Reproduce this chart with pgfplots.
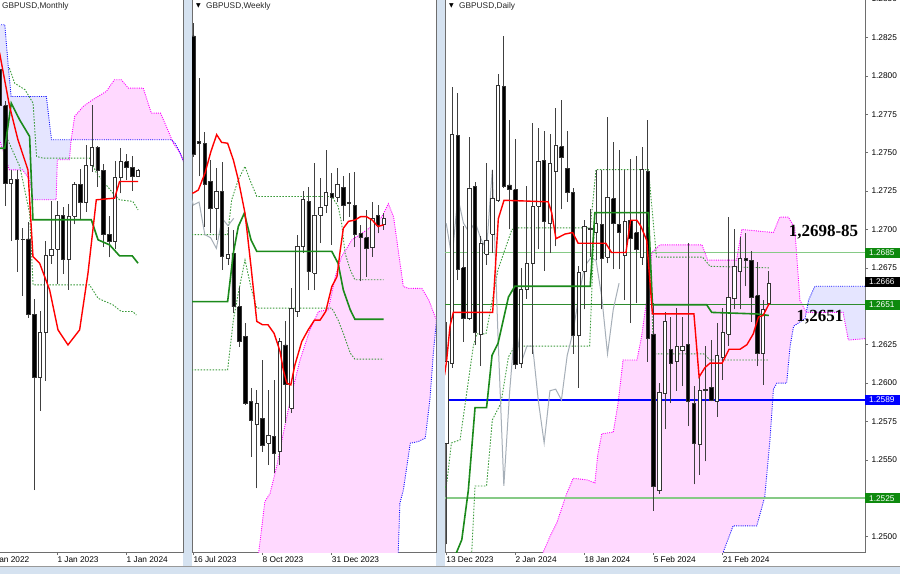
\documentclass[border=0pt]{standalone}
\usepackage{fontspec}
\setmainfont{Liberation Sans}
\newfontfamily\symfont{DejaVu Sans}
\newfontfamily\notefont{Liberation Serif}
\usepackage{pgfplots}
\usepackage{pgfplotstable}
\pgfplotsset{compat=1.18}

\definecolor{tenkan}{HTML}{FF0000}
\definecolor{kijun}{HTML}{1B8A1B}
\definecolor{dotgreen}{HTML}{3A9A3A}
\definecolor{chikou}{HTML}{A6AFB8}
\definecolor{kumopink}{HTML}{FF00FF}
\definecolor{kumoblue}{HTML}{1515FF}
\definecolor{lvlgreen}{HTML}{86CA86}
\definecolor{lvldark}{HTML}{2E8B2E}
\definecolor{tagblue}{HTML}{0000FF}
\definecolor{taggreen}{HTML}{0E8A0E}
\definecolor{winbg}{HTML}{D5E2F0}
\definecolor{framegray}{HTML}{6E6E6E}

\newcommand\lblfont{\fontsize{8.3bp}{9bp}\selectfont}

\pgfplotsset{
  panel/.style={scale only axis, anchor=south west, height=554bp,
    axis background/.style={fill=white},
    axis line style={framegray, line width=0.8bp},
    tick style={framegray, line width=0.6bp},
    tick align=outside, major tick length=3bp,
    ytick=\empty, xtick pos=left,
    tick label style={font=\lblfont},
    xticklabel style={anchor=north west, inner sep=0pt, yshift=-1bp}},
  wick/.style={forget plot, draw=black!75, line width=0.8bp},
  body/.style={forget plot, draw=black!80, line width=0.8bp, line join=miter},
  kumoedge/.style={line width=0.9bp, dash pattern=on 1bp off 1.2bp},
  lvldot/.style={draw=dotgreen, line width=0.9bp, dash pattern=on 1.5bp off 1.5bp},
  pinkfill/.style={draw=none, fill=kumopink!15, forget plot},
  bluefill/.style={draw=none, fill=kumoblue!11, forget plot}
}
\tikzset{
  datelbl/.style={anchor=north west, inner sep=0pt, yshift=-4bp, font=\lblfont},
  pricetag/.style={anchor=west, inner xsep=4bp, inner ysep=0pt, minimum height=10bp,
    text width=31bp, font=\lblfont, text=white}
}

% one wick and one body per row of an OHLC table (x o h l c)
\newcommand\drawcandles[1]{%
  \pgfplotstablegetrowsof{#1}%
  \pgfmathtruncatemacro\lastrow{\pgfplotsretval-1}%
  \pgfplotsforeachungrouped \crow in {0,...,\lastrow}{%
    \pgfplotstablegetelem{\crow}{x}\of{#1}\let\cx\pgfplotsretval
    \pgfplotstablegetelem{\crow}{o}\of{#1}\let\co\pgfplotsretval
    \pgfplotstablegetelem{\crow}{h}\of{#1}\let\chi\pgfplotsretval
    \pgfplotstablegetelem{\crow}{l}\of{#1}\let\clo\pgfplotsretval
    \pgfplotstablegetelem{\crow}{c}\of{#1}\let\ccl\pgfplotsretval
    \pgfmathsetmacro\xl{\cx-0.3}\pgfmathsetmacro\xr{\cx+0.3}%
    \ifdim\co pt>\ccl pt\def\cfill{black}\else\def\cfill{white}\fi
    \edef\candlecmd{%
      \noexpand\addplot[wick] coordinates {(\cx,\clo) (\cx,\chi)};%
      \noexpand\addplot[body,fill=\cfill] coordinates {(\xl,\co) (\xr,\co) (\xr,\ccl) (\xl,\ccl) (\xl,\co)};}%
    \candlecmd
  }%
}

% ---------------- monthly ----------------
\pgfplotstableread{
x o h l c
-10 1.3400 1.3437 1.3000 1.3136
-9 1.3136 1.3167 1.2411 1.2574
-8 1.2574 1.2667 1.2155 1.2600
-7 1.2600 1.2667 1.1933 1.2165
-6 1.2165 1.2247 1.1760 1.2170
-5 1.2170 1.2294 1.1600 1.1620
-4 1.1620 1.1738 1.0350 1.1167
-3 1.1167 1.1645 1.0924 1.1491
-2 1.1491 1.2154 1.1143 1.2050
-1 1.2050 1.2447 1.1992 1.2097
0 1.2097 1.2448 1.1841 1.2339
1 1.2339 1.2401 1.1915 1.2024
2 1.2024 1.2423 1.1802 1.2335
3 1.2335 1.2584 1.2275 1.2567
4 1.2567 1.2680 1.2308 1.2437
5 1.2437 1.2849 1.2369 1.2703
6 1.2703 1.3142 1.2659 1.2835
7 1.2835 1.2841 1.2548 1.2667
8 1.2667 1.2713 1.2111 1.2200
9 1.2200 1.2337 1.2037 1.2150
10 1.2150 1.2733 1.2095 1.2620
11 1.2620 1.2827 1.2500 1.2730
12 1.2730 1.2786 1.2597 1.2690
13 1.2690 1.2773 1.2518 1.2623
14 1.2623 1.2676 1.2620 1.2666
}\mcandles
\pgfplotstableread{
k v
-10.3 1.3518
-10.0 1.3518
-8.27 1.3131
-6.82 1.2889
-5.09 1.2671
-4.22 1.2043
-3.06 1.1994
-2.2 1.1898
-1.33 1.1801
0.12 1.1511
1.85 1.1402
3.87 1.1511
5.32 1.1922
6.76 1.2454
9.94 1.2466
10.8 1.2587
14.0 1.2587
}\mtenkan
\pgfplotstableread{
k v
-10.3 1.2828
-9.1 1.2828
-7.98 1.3155
-6.53 1.3034
-4.8 1.2913
-4.22 1.2309
5.9 1.2309
7.06 1.2164
9.08 1.2127
10.8 1.2047
13.0 1.2047
14.0 1.1994
}\mkijun
\pgfplotstableread{
k v
-8.3 1.3409
-7.4 1.3300
-5.6 1.3252
-4.2 1.3155
-3.6 1.2768
-2.5 1.2756
5.6 1.2756
6.8 1.2647
9.65 1.2502
10.8 1.2454
13.1 1.2442
14.0 1.2381
}\mupper
\pgfplotstableread{
k v
-8.6 1.2889
-6.5 1.2695
-4.8 1.2357
-4.2 1.1837
5.6 1.1837
7.06 1.1740
9.65 1.1692
11.1 1.1644
13.1 1.1644
13.7 1.1619
}\mlower
\pgfplotstableread{
k v
-10.5 1.3723
-9.1 1.3723
-8.5 1.3421
-8.0 1.3203
-1.9 1.3203
-1.0 1.2889
19.8 1.2889
20.4 1.2865
21.3 1.2792
22.0 1.2720
}\mspanA
\pgfplotstableread{
k v
-10.5 1.2949
-8.3 1.2671
-6.0 1.2671
-4.8 1.2599
-4.2 1.2454
-0.2 1.2454
0.0 1.2744
2.1 1.2744
2.4 1.2889
3.0 1.3058
4.5 1.3131
6.1 1.3179
8.5 1.3240
9.9 1.3324
11.1 1.3324
12.3 1.3264
14.9 1.3264
16.3 1.3082
17.9 1.3082
18.9 1.2986
20.1 1.2865
21.3 1.2792
22.0 1.2720
}\mspanB
% cloud outlines (span A / span B joined), monthly
\pgfplotstableread{
k v
-10.5 1.3723
-9.1 1.3723
-8.5 1.3421
-8.0 1.3203
-1.9 1.3203
-1.0 1.2889
2.4 1.2889
2.1 1.2744
0.0 1.2744
-0.2 1.2454
-4.2 1.2454
-4.8 1.2599
-6.0 1.2671
-8.3 1.2671
-10.5 1.2949
-10.5 1.3723
}\mkumoblue
\pgfplotstableread{
k v
2.4 1.2889
3.0 1.3058
4.5 1.3131
6.1 1.3179
8.5 1.3240
9.9 1.3324
11.1 1.3324
12.3 1.3264
14.9 1.3264
16.3 1.3082
17.9 1.3082
18.9 1.2986
20.1 1.2865
21.3 1.2792
20.4 1.2865
19.8 1.2889
2.4 1.2889
}\mkumopink

% ---------------- weekly ----------------
\pgfplotstableread{
x o h l c
0 1.3091 1.3121 1.2810 1.2814
1 1.2845 1.2993 1.2764 1.2841
2 1.2841 1.2868 1.2647 1.2744
3 1.2752 1.2802 1.2631 1.2690
4 1.2690 1.2783 1.2616 1.2729
5 1.2729 1.2798 1.2546 1.2577
6 1.2573 1.2647 1.2558 1.2583
7 1.2585 1.2639 1.2445 1.2460
8 1.2460 1.2507 1.2367 1.2379
9 1.2391 1.2422 1.2231 1.2235
10 1.2239 1.2270 1.2111 1.2195
11 1.2185 1.2266 1.2037 1.2235
12 1.2200 1.2336 1.2122 1.2138
13 1.2142 1.2266 1.2091 1.2161
14 1.2157 1.2290 1.2072 1.2119
15 1.2122 1.2387 1.2091 1.2379
16 1.2371 1.2426 1.2189 1.2278
17 1.2223 1.2503 1.2212 1.2457
18 1.2449 1.2627 1.2437 1.2600
19 1.2600 1.2729 1.2585 1.2709
20 1.2705 1.2740 1.2499 1.2542
21 1.2538 1.2795 1.2499 1.2674
22 1.2674 1.2760 1.2608 1.2692
23 1.2697 1.2826 1.2678 1.2726
24 1.2725 1.2771 1.2604 1.2715
25 1.2715 1.2783 1.2703 1.2746
26 1.2738 1.2764 1.2659 1.2697
27 1.2700 1.2771 1.2670 1.2704
28 1.2697 1.2773 1.2599 1.2628
29 1.2631 1.2650 1.2519 1.2621
30 1.2621 1.2686 1.2530 1.2596
31 1.2598 1.2705 1.2577 1.2666
32 1.2672 1.2697 1.2631 1.2649
33 1.2652 1.2678 1.2639 1.2666
}\wcandles
\pgfplotstableread{
k v
-0.3 1.2725
0 1.2725
0.87 1.2732
2.02 1.2771
3.06 1.2822
4.05 1.2861
4.91 1.2843
5.95 1.2841
6.94 1.2802
7.8 1.2756
8.96 1.2678
10.0 1.2554
11.0 1.2426
12.0 1.2418
12.95 1.2418
14.0 1.2398
15.03 1.2356
15.6 1.2313
16.2 1.2282
16.9 1.2278
17.6 1.2324
18.8 1.2379
19.9 1.2406
21.0 1.2429
21.97 1.2429
22.95 1.2449
24.0 1.2507
24.9 1.2530
25.4 1.2585
26.0 1.2643
26.9 1.2659
28.0 1.2662
29.0 1.2670
30.0 1.2670
31.0 1.2662
32.0 1.2647
33.0 1.2651
}\wtenkan
\pgfplotstableread{
k v
-0.3 1.2472
5.95 1.2472
6.94 1.2585
7.8 1.2647
8.84 1.2678
10.0 1.2616
11.0 1.2589
24.0 1.2589
25.1 1.2561
26.0 1.2499
27.2 1.2453
28.0 1.2431
33.0 1.2431
}\wkijun
\pgfplotstableread{
k v
-0.3 1.2628
5.95 1.2628
6.65 1.2709
7.8 1.2756
8.96 1.2787
9.8 1.2756
11.0 1.2717
24.0 1.2717
25.1 1.2694
25.7 1.2655
26.3 1.2585
27.2 1.2546
28.0 1.2523
33.0 1.2523
}\wupper
\pgfplotstableread{
k v
-0.3 1.2313
5.95 1.2313
6.94 1.2429
7.8 1.2492
8.96 1.2569
10.1 1.2499
11.0 1.2457
24.0 1.2457
25.1 1.2429
26.0 1.2398
27.2 1.2352
28.0 1.2338
33.0 1.2338
}\wlower
\pgfplotstableread{
k v
-1 1.2746
0 1.2697
1 1.2704
2 1.2628
3 1.2621
4 1.2596
5 1.2666
6 1.2649
7 1.2666
}\wchikou
\pgfplotstableread{
k v
35.3 1.1800
35.8 1.2002
36.4 1.2033
37.6 1.2142
39.0 1.2146
40.2 1.2154
41.0 1.2243
41.6 1.2352
42.2 1.2437
}\wspanA
\pgfplotstableread{
k v
11.0 1.1850
12.4 1.2006
13.3 1.2025
14.45 1.2088
15.6 1.2165
17.05 1.2258
18.5 1.2336
20.2 1.2406
21.7 1.2449
23.4 1.2453
24.6 1.2530
25.7 1.2577
27.5 1.2616
29.2 1.2631
30.9 1.2647
32.7 1.2670
33.8 1.2700
34.7 1.2670
35.5 1.2593
36.4 1.2507
37.3 1.2503
39.6 1.2503
40.8 1.2476
41.9 1.2437
42.6 1.2420
}\wspanB
\pgfplotstableread{
k v
11.0 1.1850
12.4 1.2006
13.3 1.2025
14.45 1.2088
15.6 1.2165
17.05 1.2258
18.5 1.2336
20.2 1.2406
21.7 1.2449
23.4 1.2453
24.6 1.2530
25.7 1.2577
27.5 1.2616
29.2 1.2631
30.9 1.2647
32.7 1.2670
33.8 1.2700
34.7 1.2670
35.5 1.2593
36.4 1.2507
37.3 1.2503
39.6 1.2503
40.8 1.2476
41.9 1.2437
42.2 1.2437
41.6 1.2352
41.0 1.2243
40.2 1.2154
39.0 1.2146
37.6 1.2142
36.4 1.2033
35.8 1.2002
35.3 1.1800
11.0 1.1800
11.0 1.1850
}\wkumopink

% ---------------- daily ----------------
\pgfplotstableread{
x o h l c
-1 1.2561 1.2640 1.2495 1.2614
0 1.2613 1.2793 1.2610 1.2762
1 1.2761 1.2789 1.2667 1.2674
2 1.2675 1.2702 1.2627 1.2642
3 1.2642 1.2760 1.2641 1.2727
4 1.2728 1.2731 1.2625 1.2633
5 1.2632 1.2696 1.2611 1.2691
6 1.2684 1.2743 1.2677 1.2693
7 1.2697 1.2739 1.2685 1.2720
8 1.2719 1.2801 1.2718 1.2794
9 1.2793 1.2826 1.2727 1.2728
10 1.2729 1.2771 1.2700 1.2726
11 1.2726 1.2759 1.2609 1.2612
12 1.2613 1.2675 1.2610 1.2661
13 1.2661 1.2728 1.2655 1.2678
14 1.2678 1.2769 1.2619 1.2715
15 1.2715 1.2766 1.2687 1.2744
16 1.2745 1.2764 1.2673 1.2705
17 1.2704 1.2762 1.2685 1.2743
18 1.2738 1.2779 1.2689 1.2755
19 1.2754 1.2784 1.2713 1.2747
20 1.2740 1.2764 1.2718 1.2724
21 1.2724 1.2727 1.2619 1.2631
22 1.2631 1.2676 1.2597 1.2672
23 1.2673 1.2706 1.2648 1.2702
24 1.2701 1.2713 1.2682 1.2700
25 1.2698 1.2739 1.2680 1.2704
26 1.2703 1.2739 1.2648 1.2681
27 1.2682 1.2773 1.2678 1.2721
28 1.2720 1.2757 1.2674 1.2704
29 1.2703 1.2752 1.2674 1.2698
30 1.2683 1.2739 1.2654 1.2705
31 1.2706 1.2746 1.2639 1.2694
32 1.2698 1.2748 1.2652 1.2687
33 1.2682 1.2754 1.2677 1.2739
34 1.2738 1.2771 1.2614 1.2629
35 1.2632 1.2652 1.2517 1.2533
36 1.2530 1.2600 1.2528 1.2594
37 1.2593 1.2646 1.2570 1.2640
38 1.2622 1.2643 1.2587 1.2613
39 1.2614 1.2649 1.2595 1.2624
40 1.2621 1.2643 1.2598 1.2624
41 1.2625 1.2691 1.2572 1.2588
42 1.2587 1.2598 1.2534 1.2561
43 1.2560 1.2604 1.2540 1.2595
44 1.2595 1.2624 1.2549 1.2596
45 1.2597 1.2628 1.2588 1.2589
46 1.2588 1.2639 1.2578 1.2618
47 1.2617 1.2649 1.2602 1.2633
48 1.2632 1.2708 1.2624 1.2656
49 1.2655 1.2700 1.2648 1.2676
50 1.2673 1.2695 1.2648 1.2681
51 1.2681 1.2698 1.2663 1.2680
52 1.2680 1.2686 1.2640 1.2656
53 1.2657 1.2679 1.2611 1.2619
54 1.2619 1.2654 1.2599 1.2648
55 1.2652 1.2673 1.2651 1.2665
}\dcandles
\pgfplotstableread{
k v
-1.3 1.2605
-0.92 1.2615
-0.35 1.2637
0.23 1.2646
7.06 1.2646
8.04 1.2707
9.03 1.2719
16.7 1.2718
17.3 1.2711
18.05 1.2694
19.6 1.2697
20.95 1.2698
21.9 1.2691
26.7 1.2691
27.7 1.2685
30.2 1.2685
31.0 1.2706
32.1 1.2706
32.8 1.2702
33.8 1.2693
34.8 1.2645
42.0 1.2645
42.9 1.2604
43.9 1.2610
44.8 1.2613
46.9 1.2613
48.1 1.2622
50.0 1.2622
51.2 1.2625
52.3 1.2632
53.2 1.2643
54.0 1.2644
55.1 1.2652
}\dtenkan
\pgfplotstableread{
k v
0.6 1.2488
1.7 1.2498
2.83 1.2530
4.0 1.2584
6.0 1.2584
6.95 1.2618
8.0 1.2626
9.8 1.2656
10.9 1.2663
24.0 1.2663
24.8 1.2711
34.1 1.2711
34.8 1.2651
44.2 1.2651
45.1 1.2646
52.9 1.2645
55.0 1.2644
}\dkijun
\pgfplotstableread{
k v
-1.3 1.2530
-0.9 1.2535
-0.1 1.2561
1.4 1.2563
3.7 1.2624
4.3 1.2632
5.9 1.2632
8.0 1.2674
10.4 1.2700
11.5 1.2701
24.0 1.2701
25.0 1.2739
34.1 1.2739
35.5 1.2682
43.5 1.2682
44.8 1.2676
55.0 1.2675
}\dupper
\pgfplotstableread{
k v
3.4 1.2488
4.0 1.2533
6.0 1.2533
7.0 1.2576
8.5 1.2587
9.8 1.2617
10.9 1.2624
23.9 1.2624
24.8 1.2711
34.1 1.2711
35.0 1.2619
43.7 1.2619
44.8 1.2615
55.0 1.2615
}\dlower
\pgfplotstableread{
k v
-1 1.2704
0 1.2681
1 1.2721
2 1.2704
3 1.2698
4 1.2705
5 1.2694
6 1.2687
7 1.2739
8 1.2629
9 1.2533
10 1.2594
11 1.2640
12 1.2613
13 1.2624
14 1.2624
15 1.2588
16 1.2561
17 1.2595
18 1.2596
19 1.2589
20 1.2618
21 1.2633
22 1.2656
23 1.2676
24 1.2681
25 1.2680
26 1.2656
27 1.2619
28 1.2648
29 1.2665
}\dchikou
\pgfplotstableread{
k v
46.5 1.2440
47.1 1.2490
48.3 1.2502
48.8 1.2507
52.9 1.2507
53.5 1.2515
54.3 1.2526
55.2 1.2563
55.8 1.2596
56.4 1.2600
58.1 1.2600
58.7 1.2624
59.3 1.2637
61.3 1.2642
61.5 1.2646
61.9 1.2654
63.0 1.2663
72.0 1.2663
}\dspanA
\pgfplotstableread{
k v
15.0 1.2475
15.85 1.2490
17.0 1.2500
18.2 1.2509
19.9 1.2528
21.05 1.2538
23.4 1.2537
24.8 1.2535
25.3 1.2553
26.0 1.2567
28.0 1.2568
28.8 1.2586
29.7 1.2615
32.1 1.2615
32.9 1.2630
33.8 1.2654
34.7 1.2685
36.1 1.2690
43.4 1.2690
44.4 1.2680
49.4 1.2680
50.3 1.2700
55.8 1.2698
56.9 1.2708
58.4 1.2708
59.5 1.2701
60.4 1.2654
61.5 1.2646
61.6 1.2646
67.9 1.2646
68.8 1.2628
72.0 1.2629
}\dspanB
\pgfplotstableread{
k v
15.0 1.2475
15.85 1.2490
17.0 1.2500
18.2 1.2509
19.9 1.2528
21.05 1.2538
23.4 1.2537
24.8 1.2535
25.3 1.2553
26.0 1.2567
28.0 1.2568
28.8 1.2586
29.7 1.2615
32.1 1.2615
32.9 1.2630
33.8 1.2654
34.7 1.2685
36.1 1.2690
43.4 1.2690
44.4 1.2680
49.4 1.2680
50.3 1.2700
55.8 1.2698
56.9 1.2708
58.4 1.2708
59.5 1.2701
60.4 1.2654
61.5 1.2646
61.3 1.2642
59.3 1.2637
58.7 1.2624
58.1 1.2600
56.4 1.2600
55.8 1.2596
55.2 1.2563
54.3 1.2526
53.5 1.2515
52.9 1.2507
48.8 1.2507
48.3 1.2502
47.1 1.2490
46.5 1.2440
15.0 1.2440
15.0 1.2475
}\dkumopink
\pgfplotstableread{
k v
61.5 1.2646
61.9 1.2654
63.0 1.2663
72.0 1.2663
72.0 1.2629
68.8 1.2628
67.9 1.2646
61.6 1.2646
61.5 1.2646
}\dkumoblue

\begin{document}
\begin{tikzpicture}
\useasboundingbox (0,0) rectangle (900bp,-574bp);
\fill[winbg] (0,0) rectangle (900bp,-574bp);
\fill[white] (0,0) rectangle (183bp,-566bp);
\fill[white] (192bp,0) rectangle (436bp,-566bp);
\fill[white] (445bp,0) rectangle (900bp,-566bp);
\draw[black!40, line width=0.6bp] (0,-566.5bp) -- (900bp,-566.5bp);

% ---- monthly panel
\begin{axis}[panel, at={(-2bp,-552bp)}, width=185bp,
  xmin=-10.28, xmax=21.79, ymin=0.99005, ymax=1.3917,
  xtick={0,12}, xticklabels={1 Jan 2023,1 Jan 2024}]
\addplot[bluefill] table[x=k,y=v]{\mkumoblue};
\addplot[pinkfill] table[x=k,y=v]{\mkumopink};
\addplot[draw=kumoblue, kumoedge] table[x=k,y=v]{\mspanA};
\addplot[draw=kumopink, kumoedge] table[x=k,y=v]{\mspanB};
\addplot[lvldot] table[x=k,y=v]{\mupper};
\addplot[lvldot] table[x=k,y=v]{\mlower};
\drawcandles{\mcandles}
\addplot[draw=kijun, line width=1.6bp] table[x=k,y=v]{\mkijun};
\addplot[draw=tenkan, line width=1.4bp] table[x=k,y=v]{\mtenkan};
\coordinate (jan22) at (axis cs:-12,0.99005);
\end{axis}
\node[datelbl] at (jan22) {1 Jan 2022};

% ---- weekly panel
\begin{axis}[panel, at={(192bp,-552bp)}, width=244bp,
  xmin=-0.225, xmax=42.06, ymin=1.18886, ymax=1.31794,
  xtick={0,12,24}, xticklabels={16 Jul 2023,8 Oct 2023,31 Dec 2023}]
\addplot[pinkfill] table[x=k,y=v]{\wkumopink};
\addplot[draw=kumoblue, kumoedge] table[x=k,y=v]{\wspanA};
\addplot[draw=kumopink, kumoedge] table[x=k,y=v]{\wspanB};
\addplot[lvldot] table[x=k,y=v]{\wupper};
\addplot[lvldot] table[x=k,y=v]{\wlower};
\addplot[draw=chikou, line width=1bp] table[x=k,y=v]{\wchikou};
\drawcandles{\wcandles}
\addplot[draw=kijun, line width=1.6bp] table[x=k,y=v]{\wkijun};
\addplot[draw=tenkan, line width=1.4bp] table[x=k,y=v]{\wtenkan};
\end{axis}

% ---- daily panel
\begin{axis}[panel, at={(445bp,-552bp)}, width=420bp,
  xmin=-1.215, xmax=71.70, ymin=1.24900, ymax=1.28507,
  xtick={-1,11,23,35,47},
  xticklabels={13 Dec 2023,2 Jan 2024,18 Jan 2024,5 Feb 2024,21 Feb 2024},
  ytick pos=right,
  ytick={1.2500,1.2525,1.2550,1.2575,1.2600,1.2625,1.2650,1.2675,1.2700,1.2725,1.2750,1.2775,1.2800,1.2825,1.2850},
  yticklabels={1.2500,,1.2550,1.2575,1.2600,1.2625,,1.2675,1.2700,1.2725,1.2750,1.2775,1.2800,1.2825,1.2850},
  yticklabel style={anchor=west}]
\addplot[pinkfill] table[x=k,y=v]{\dkumopink};
\addplot[bluefill] table[x=k,y=v]{\dkumoblue};
\addplot[draw=kumoblue, kumoedge] table[x=k,y=v]{\dspanA};
\addplot[draw=kumopink, kumoedge] table[x=k,y=v]{\dspanB};
\addplot[draw=lvlgreen, line width=1.6bp] coordinates {(-2,1.2685) (73,1.2685)};
\addplot[draw=lvldark, line width=0.9bp] coordinates {(-2,1.2651) (73,1.2651)};
\addplot[draw=tagblue, line width=1.1bp] coordinates {(-2,1.2589) (73,1.2589)};
\addplot[draw=lvlgreen, line width=1.6bp] coordinates {(-2,1.2525) (73,1.2525)};
\addplot[lvldot] table[x=k,y=v]{\dupper};
\addplot[lvldot] table[x=k,y=v]{\dlower};
\addplot[draw=chikou, line width=1bp] table[x=k,y=v]{\dchikou};
\drawcandles{\dcandles}
\addplot[draw=kijun, line width=1.6bp] table[x=k,y=v]{\dkijun};
\addplot[draw=tenkan, line width=1.4bp] table[x=k,y=v]{\dtenkan};
\node[font=\notefont\bfseries\fontsize{17bp}{17bp}\selectfont] at (axis cs:64.5,1.2698) {1,2698-85};
\node[font=\notefont\bfseries\fontsize{17bp}{17bp}\selectfont] at (axis cs:63.9,1.2643) {1,2651};
\coordinate (t2685) at (axis cs:71.70,1.2685);
\coordinate (t2666) at (axis cs:71.70,1.2666);
\coordinate (t2651) at (axis cs:71.70,1.2651);
\coordinate (t2589) at (axis cs:71.70,1.2589);
\coordinate (t2525) at (axis cs:71.70,1.2525);
\end{axis}
\node[pricetag, fill=taggreen] at (t2685) {1.2685};
\node[pricetag, fill=black] at (t2666) {1.2666};
\node[pricetag, fill=taggreen] at (t2651) {1.2651};
\node[pricetag, fill=tagblue] at (t2589) {1.2589};
\node[pricetag, fill=taggreen] at (t2525) {1.2525};

% panel captions
\node[anchor=north west, inner sep=0pt, font=\lblfont, text=black!85] at (2bp,-2bp) {GBPUSD,Monthly};
\node[anchor=north west, inner sep=0pt, font=\symfont\fontsize{6bp}{6bp}\selectfont] at (196bp,-3.5bp) {▼};
\node[anchor=north west, inner sep=0pt, font=\lblfont, text=black!85] at (206bp,-2bp) {GBPUSD,Weekly};
\node[anchor=north west, inner sep=0pt, font=\symfont\fontsize{6bp}{6bp}\selectfont] at (449bp,-3.5bp) {▼};
\node[anchor=north west, inner sep=0pt, font=\lblfont, text=black!85] at (459bp,-2bp) {GBPUSD,Daily};
\end{tikzpicture}
\end{document}
